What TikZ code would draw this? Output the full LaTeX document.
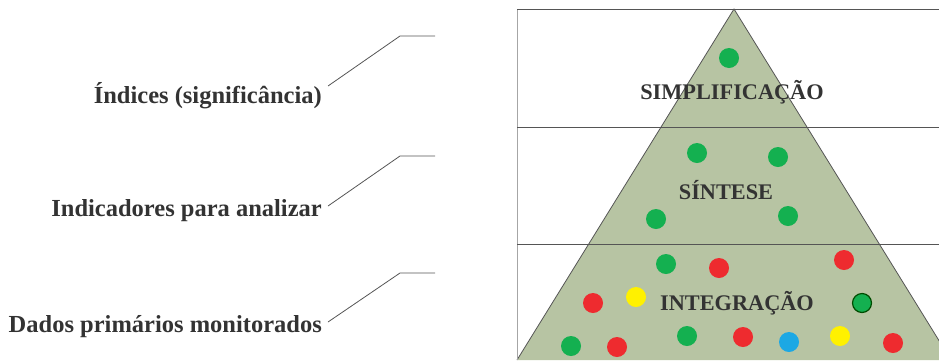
\documentclass[tikz,border=0pt]{standalone}
\usepackage{fontspec}
\setmainfont{Liberation Serif}
\definecolor{txt}{HTML}{333333}
\definecolor{pyr}{HTML}{B7C4A3}
\definecolor{dgreen}{HTML}{14B050}
\definecolor{dred}{HTML}{EE2B2F}
\definecolor{dyellow}{HTML}{FFF100}
\definecolor{dblue}{HTML}{1CA8E4}
\definecolor{rule}{HTML}{555555}
\tikzset{
  lbl/.style={font=\fontsize{24.5}{27}\selectfont\bfseries, text=txt, inner sep=0pt, anchor=base east},
  tier/.style={font=\fontsize{22.3}{24}\selectfont\bfseries, text=txt, inner sep=0pt},
  leader/.style={draw=rule, line width=0.8pt},
  dot/.style={circle, minimum size=20pt, inner sep=0pt, fill=#1},
}
\begin{document}
\begin{tikzpicture}[x=1pt,y=-1pt]
\useasboundingbox (0,0) rectangle (939,360);
% pyramid
\fill[pyr] (734,9) -- (951,360) -- (517,360) -- cycle;
\draw[rule, line width=0.8pt] (517,360) -- (734,9) -- (951,360);
% frame
\draw[draw=black!35, line width=1pt] (517,9.5) -- (517,360);
\draw[rule, line width=1pt] (517,9.5) -- (939,9.5);
\draw[rule, line width=1pt] (517,127) -- (939,127);
\draw[rule, line width=1pt] (517,244) -- (939,244);
% tier titles
\node[tier] (t1) at (732,92) {SIMPLIFICAÇÃO};
\node[tier] (t2) at (726,190) {SÍNTESE};
\node[tier] (t3) at (737,303) {INTEGRAÇÃO};
% left labels
\node[lbl] (l1) at (322,103) {Índices (significância)};
\node[lbl] (l2) at (322,216) {Indicadores para analizar};
\node[lbl] (l3) at (322,332) {Dados primários monitorados};
\coordinate (k1) at (400,36); \coordinate (e1) at (435,36);
\coordinate (k2) at (400,156); \coordinate (e2) at (435,156);
\coordinate (k3) at (400,273); \coordinate (e3) at (435,273);
\draw[leader] ([xshift=6pt,yshift=17pt]l1.base east) -- (k1) -- (e1);
\draw[leader] ([xshift=6pt,yshift=10pt]l2.base east) -- (k2) -- (e2);
\draw[leader] ([xshift=6pt,yshift=10pt]l3.base east) -- (k3) -- (e3);
% dots
\node[dot=dgreen] (d1) at (729,58) {};
\node[dot=dgreen] (d2) at (697,153) {};
\node[dot=dgreen] (d3) at (778,157) {};
\node[dot=dgreen] (d4) at (656,219) {};
\node[dot=dgreen] (d5) at (788,216) {};
\node[dot=dgreen] (d6) at (666,264) {};
\node[dot=dred] (d7) at (719,268) {};
\node[dot=dred] (d8) at (844,260) {};
\node[dot=dred] (d9) at (593,303) {};
\node[dot=dyellow] (d10) at (636,297) {};
\node[dot=dgreen, draw=black!70!green, line width=1.2pt, minimum size=19pt] (d11) at (862,303) {};
\node[dot=dgreen] (d12) at (571,346) {};
\node[dot=dred] (d13) at (617,347) {};
\node[dot=dgreen] (d14) at (687,336) {};
\node[dot=dred] (d15) at (743,337) {};
\node[dot=dblue] (d16) at (789,342) {};
\node[dot=dyellow] (d17) at (840,336) {};
\node[dot=dred] (d18) at (893,343) {};
\end{tikzpicture}
\end{document}
